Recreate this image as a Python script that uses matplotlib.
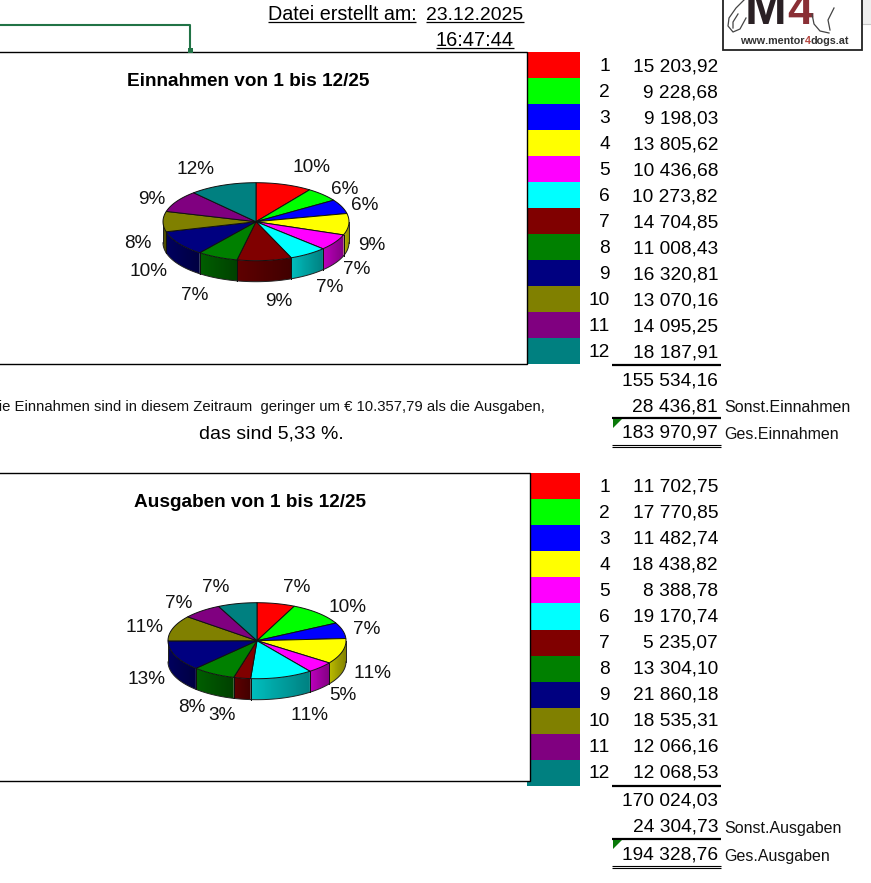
import matplotlib

matplotlib.use("Agg")
import matplotlib.pyplot as plt
import numpy as np
from matplotlib.patches import Polygon, Rectangle

plt.rcParams["font.family"] = ["Liberation Sans", "DejaVu Sans"]
plt.rcParams["text.kerning_factor"] = 6

months = list(range(1, 13))
einnahmen = [15203.92, 9228.68, 9198.03, 13805.62, 10436.68, 10273.82,
             14704.85, 11008.43, 16320.81, 13070.16, 14095.25, 18187.91]
ausgaben = [11702.75, 17770.85, 11482.74, 18438.82, 8388.78, 19170.74,
            5235.07, 13304.10, 21860.18, 18535.31, 12066.16, 12068.53]
einnahmen_totals = [155534.16, 28436.81, 183970.97]
ausgaben_totals = [170024.03, 24304.73, 194328.76]
colors = ["#ff0000", "#00ff00", "#0000ff", "#ffff00", "#ff00ff", "#00ffff",
          "#800000", "#008000", "#000080", "#808000", "#800080", "#008080"]

# label places, in pixels of the screenshot
einnahmen_label_xy = [(311, 167), (345, 188), (365, 204), (372, 245), (357, 268), (330, 286),
                      (279, 300), (195, 294), (148, 270), (138, 243), (152, 198), (195, 169)]
ausgaben_label_xy = [(297, 587), (347, 606), (367, 629), (372, 673), (343, 695), (309, 714),
                     (222, 715), (192, 707), (146, 679), (144, 626), (179, 602), (216, 587)]

W, H = 871, 883
fig = plt.figure(figsize=(W / 100, H / 100), dpi=100)
ax = fig.add_axes([0, 0, 1, 1])
ax.set_xlim(0, W)
ax.set_ylim(H, 0)
ax.axis("off")

PX = 0.72  # font px -> pt at dpi 100


def fmt(v):
    return f"{v:,.2f}".replace(",", " ").replace(".", ",")


def ell(t, cx, cy, rx, ry):
    # t in degrees clockwise from the top
    t = np.radians(t)
    return np.column_stack([cx + rx * np.sin(t), cy - ry * np.cos(t)])


def pie3d(values, cx, cy, rx, ry, depth):
    edges = np.concatenate([[0], np.cumsum(values)]) / np.sum(values) * 360
    # side wall first, only where the rim faces the viewer
    for i, col in enumerate(colors):
        a, b = max(edges[i], 90), min(edges[i + 1], 270)
        if b <= a:
            continue
        base = np.array(matplotlib.colors.to_rgb(col))
        rim = ell(np.linspace(a, b, 50), cx, cy, rx, ry)
        poly = Polygon(np.vstack([rim, rim[::-1] + [0, depth]]), fc="none", ec="none",
                       transform=ax.transData)
        ax.add_patch(poly)
        # wall is brighter on its left end, darker on its right end
        x0, x1 = rim[:, 0].min() - 1, rim[:, 0].max() + 1
        shade = np.linspace(0.75, 0.5, 64)[None, :, None] * base[None, None, :]
        im = ax.imshow(shade, extent=(x0, x1, rim[:, 1].max() + depth + 1, rim[:, 1].min() - 1),
                       aspect="auto", zorder=3, interpolation="nearest")
        im.set_clip_path(poly)
        ax.plot(rim[:, 0], rim[:, 1] + depth, color="#222222", lw=0.7, zorder=4)
        for t in (a, b):
            if 90 < t < 270:
                q = ell(t, cx, cy, rx, ry)[0]
                ax.plot([q[0], q[0]], [q[1], q[1] + depth], color="#111111", lw=0.7, zorder=4)
    ax.set_xlim(0, W)
    ax.set_ylim(H, 0)
    # rim ends at the sides
    for t in (90, 270):
        q = ell(t, cx, cy, rx, ry)[0]
        ax.plot([q[0], q[0]], [q[1], q[1] + depth], color="#222222", lw=0.7, zorder=4)
    for i, col in enumerate(colors):
        ts = np.linspace(edges[i], edges[i + 1], 60)
        poly = np.vstack([[cx, cy], ell(ts, cx, cy, rx, ry)])
        ax.add_patch(Polygon(poly, fc=col, ec="#111111", lw=0.7, zorder=5))


def chart_box(title, title_x, title_y, top, bottom, right):
    ax.add_patch(Rectangle((-5, top), right + 5, bottom - top, fc="white", ec="black", lw=1, zorder=1))
    ax.text(title_x, title_y, title, fontsize=19 * PX, fontweight="bold", ha="center", va="baseline", zorder=6)


def table(values, totals, top, row0, total_rows, rule_ys, names, swatch_bottom):
    step = (swatch_bottom - top) / 12
    for i, (m, v, col) in enumerate(zip(months, values, colors)):
        ax.add_patch(Rectangle((527, top + i * step), 53, step, fc=col, ec="none", zorder=0.5))
        y = row0 + i * 26 + 7
        ax.text(610, y, str(m), fontsize=19.2 * PX, ha="right", va="baseline")
        ax.text(718, y, fmt(v), fontsize=19.2 * PX, ha="right", va="baseline")
    for v, y in zip(totals, total_rows):
        ax.text(718, y + 7, fmt(v), fontsize=19.2 * PX, ha="right", va="baseline")
    for name, y in zip(names, total_rows[1:]):
        ax.text(724, y + 8, name, fontsize=16 * PX, ha="left", va="baseline", color="#111111")
    ax.plot([612, 721], [rule_ys[0], rule_ys[0]], color="black", lw=1.6, solid_capstyle="butt")
    ax.plot([612, 721], [rule_ys[1], rule_ys[1]], color="black", lw=1.6, solid_capstyle="butt")
    for dy in (0, 2.2):
        ax.plot([612, 721], [rule_ys[2] + dy, rule_ys[2] + dy], color="black", lw=0.8, solid_capstyle="butt")
    ty = rule_ys[1] + 1
    ax.add_patch(Polygon([(613, ty), (622, ty), (613, ty + 9)], fc="#0a7a0a", ec="none", zorder=6))


def labels(values, xy):
    total = sum(values)
    for v, (x, y) in zip(values, xy):
        ax.text(x, y + 1, f"{v / total * 100:.0f}%", fontsize=19 * PX, ha="center", va="center",
                color="#111111", zorder=6)


# top chart
chart_box("Einnahmen von 1 bis 12/25", 248.5, 86, 52, 364, 527)
pie3d(einnahmen, 256, 221.7, 93, 39, 21)
labels(einnahmen, einnahmen_label_xy)
table(einnahmen, einnahmen_totals, 52, 64, [378, 404, 431], [364.5, 418, 445],
      ["Sonst.Einnahmen", "Ges.Einnahmen"], 364)

# bottom chart
chart_box("Ausgaben von 1 bis 12/25", 249.5, 507, 473, 780.5, 530)
pie3d(ausgaben, 257, 640.7, 89, 38, 21)
labels(ausgaben, ausgaben_label_xy)
table(ausgaben, ausgaben_totals, 473, 485, [799, 825, 853], [785.5, 839, 865.5],
      ["Sonst.Ausgaben", "Ges.Ausgaben"], 786)

# text between the charts
ax.text(545, 411, "Die Einnahmen sind in diesem Zeitraum  geringer um € 10.357,79 als die Ausgaben,",
        fontsize=14.9 * PX, ha="right", va="baseline", color="#111111")
ax.text(271, 438.5, "das sind 5,33 %.", fontsize=19.5 * PX, ha="center", va="baseline")

# header
ax.text(268, 20, "Datei erstellt am:", fontsize=19.8 * PX, ha="left", va="baseline")
ax.text(523, 20, "23.12.2025", fontsize=19.4 * PX, ha="right", va="baseline")
ax.text(475, 46, "16:47:44", fontsize=20 * PX, ha="center", va="baseline")
for x0, x1, y in [(268, 416, 21.5), (426, 524, 21.5), (436, 514, 47.5)]:
    ax.plot([x0, x1], [y, y], color="black", lw=0.9, solid_capstyle="butt")

# excel selection frame of the chart
ax.plot([-2, 190, 190], [25, 25, 50], color="#217346", lw=1.5, zorder=7)
ax.add_patch(Rectangle((187.5, 47.5), 5, 5, fc="#217346", ec="none", zorder=7))

# logo
ax.add_patch(Rectangle((722.5, -3), 139, 53, fc="white", ec="#222222", lw=1.3, zorder=7))
ax.add_patch(Rectangle((862, 0), 9, 24, fc="#efefef", ec="none", zorder=1))
ax.plot([862, 871], [24, 24], color="#c8c8c8", lw=0.8)
ax.text(765, 24, "M", fontsize=50 * PX, fontweight="bold", ha="center", va="baseline",
        color="#2a2024", zorder=8)
ax.text(800, 24, "4", fontsize=46 * PX, fontweight="bold", ha="center", va="baseline",
        color="#8a2f35", zorder=8)
# url in three pieces, the 4 is red
renderer = fig.canvas.get_renderer()
url_x = 740
for part, col in [("www.mentor", "#333333"), ("4", "#b5453f"), ("dogs.at", "#333333")]:
    t = ax.text(url_x, 44, part, fontsize=10.8 * PX, fontweight="bold", ha="left", va="baseline",
                color=col, zorder=8)
    url_x = t.get_window_extent(renderer).x1
for seg in ([(744, 0), (736, 8), (729, 18), (728, 26), (733, 32), (740, 29), (746, 18)],
            [(738, 14), (733, 22), (733, 28)],
            [(812, 14), (814, 24), (820, 31), (829, 33)],
            [(834, 8), (828, 20), (830, 30)]):
    s = np.array(seg)
    ax.plot(s[:, 0], s[:, 1], color="#444444", lw=0.9, zorder=8)

fig.savefig("out.png", dpi=100)
